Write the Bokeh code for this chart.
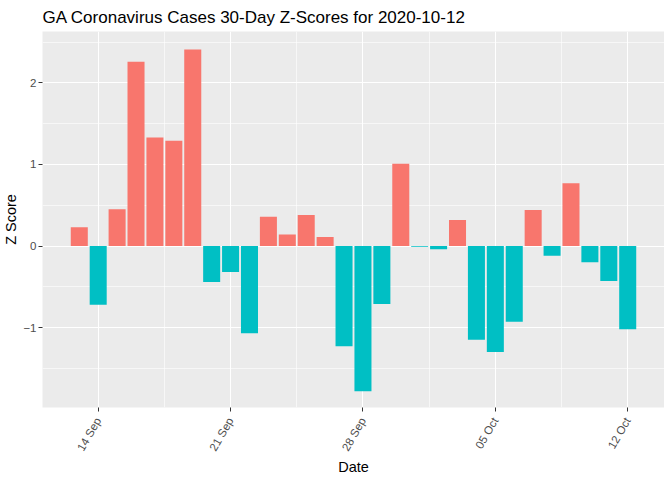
import numpy as np
import pandas as pd
from bokeh.plotting import figure
from bokeh.models import ColumnDataSource, Range1d, FixedTicker, DatetimeTickFormatter
from bokeh.embed import file_html
from bokeh.resources import INLINE

# ---- data ----
start_date = "2020-09-13"
end_date = "2020-10-12"
z_scores = [0.23, -0.72, 0.45, 2.26, 1.33, 1.29, 2.41, -0.44, -0.32, -1.07,
            0.36, 0.14, 0.38, 0.11, -1.23, -1.78, -0.71, 1.01, -0.01, -0.04,
            0.32, -1.15, -1.30, -0.93, 0.44, -0.12, 0.77, -0.20, -0.43, -1.02]
tick_dates = ["2020-09-14", "2020-09-21", "2020-09-28", "2020-10-05", "2020-10-12"]
y_ticks = [-1, 0, 1, 2]
y_minor = [-1.5, -0.5, 0.5, 1.5, 2.5]
title_text = "GA Coronavirus Cases 30-Day Z-Scores for 2020-10-12"

POS = "#F8766D"
NEG = "#00BFC4"
DAY = 86400000.0

dates = pd.date_range(start_date, end_date)
colors = [POS if v >= 0 else NEG for v in z_scores]
src = ColumnDataSource(dict(date=dates, z=z_scores, color=colors))

d0 = dates[0].value / 1e6
d1 = dates[-1].value / 1e6
pad = 1.945 * DAY

p = figure(frame_width=622, frame_height=376, x_axis_type="datetime",
           output_backend="svg", toolbar_location=None,
           x_range=Range1d(d0 - pad, d1 + pad),
           y_range=Range1d(-1.98, 2.63),
           min_border_left=34, min_border_right=0,
           min_border_top=23, min_border_bottom=65)

p.vbar(x="date", top="z", bottom=0, width=0.9 * DAY, color="color",
       line_color=None, source=src)

# ---- theme ----
p.background_fill_color = "#EBEBEB"
p.border_fill_color = "white"
p.outline_line_color = None

tick_ms = [pd.Timestamp(t).value / 1e6 for t in tick_dates]
minor_ms = [t + 3.5 * DAY for t in tick_ms[:-1]] + [tick_ms[0] - 3.5 * DAY, tick_ms[-1] + 3.5 * DAY]
p.xaxis.ticker = FixedTicker(ticks=tick_ms, minor_ticks=minor_ms)
p.yaxis.ticker = FixedTicker(ticks=y_ticks, minor_ticks=y_minor)
fmt = "%d %b"
p.xaxis.formatter = DatetimeTickFormatter(days=fmt, months=fmt, hours=fmt,
                                          minutes=fmt, seconds=fmt, milliseconds=fmt,
                                          microseconds=fmt, years=fmt, hourmin=fmt,
                                          minsec=fmt)
p.xaxis.major_label_orientation = np.pi / 3

for ax in (p.xaxis, p.yaxis):
    ax.axis_line_color = None
    ax.major_tick_line_color = "#333333"
    ax.major_tick_line_width = 1
    ax.major_tick_out = 4
    ax.major_tick_in = 0
    ax.minor_tick_line_color = None
    ax.major_label_text_color = "#4D4D4D"
    ax.major_label_text_font = "Liberation Sans"
    ax.major_label_text_font_size = "11.5px"
    ax.axis_label_text_font = "Liberation Sans"
    ax.axis_label_text_font_size = "14.5px"
    ax.axis_label_text_font_style = "normal"
    ax.axis_label_text_color = "black"
    ax.major_label_standoff = 2

p.xaxis.major_label_standoff = 7
p.xaxis.axis_label = "Date"
p.yaxis.axis_label = "Z Score"
p.xaxis.axis_label_standoff = 0
p.yaxis.axis_label_standoff = 1

for g in (p.xgrid, p.ygrid):
    g.grid_line_color = "white"
    g.grid_line_width = 1.1
    g.minor_grid_line_color = "white"
    g.minor_grid_line_width = 0.6

p.title.text = title_text
p.title.text_font = "Liberation Sans"
p.title.text_font_size = "17px"
p.title.text_font_style = "normal"
p.title.text_color = "black"
p.title.align = "left"

open("out.html", "w").write(file_html(p, INLINE))
